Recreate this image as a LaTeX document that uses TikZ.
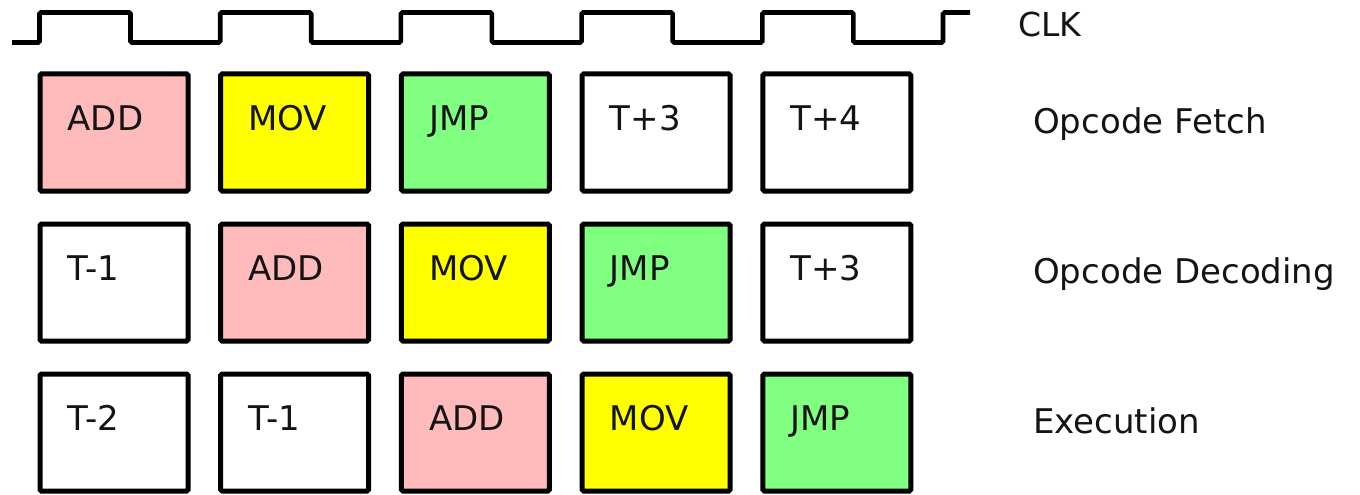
\documentclass[tikz,border=0pt]{standalone}
\usepackage{fontspec}
\setmainfont{DejaVu Sans}
\definecolor{pinkc}{RGB}{255,187,187}
\definecolor{yelc}{RGB}{255,255,0}
\definecolor{grnc}{RGB}{128,255,128}
\newcommand{\stagebox}[5]{%
  \node[box, fill=#4] (#1) at ({114+180.7*#2},{132.5+150*#3}) {};
  \node[txt] (#1t) at ([shift={(30,59)}]#1.north west) {#5};}
\begin{document}
\begin{tikzpicture}[x=1pt,y=-1pt,
  box/.style={draw=black, line width=5pt, minimum width=148pt, minimum height=117pt, inner sep=0pt, rounded corners=1.5pt},
  txt/.style={anchor=base west, inner sep=0pt, text=black!92, font=\fontsize{34}{40}\selectfont},
  wave/.style={draw=black, line width=4.6pt, rounded corners=1.5pt}]
\useasboundingbox (0,0) rectangle (1360,495);
\draw[wave] (12,42.5) -| (39.5,12.5) -| (130.5,42.5) -| (220.2,12.5) -| (311.2,42.5)
  -| (400.9,12.5) -| (491.9,42.5) -| (581.6,12.5) -| (672.6,42.5) -| (762.3,12.5)
  -| (853.3,42.5) -| (943,12.5) -- (970,12.5);
\node[txt, font=\fontsize{33}{40}\selectfont] (clk) at (1018,37) {CLK};
% fetch row
\stagebox{f1}{0}{0}{pinkc}{ADD}
\stagebox{f2}{1}{0}{yelc}{MOV}
\stagebox{f3}{2}{0}{grnc}{JMP}
\stagebox{f4}{3}{0}{white}{T+3}
\stagebox{f5}{4}{0}{white}{T+4}
% decode row
\stagebox{d1}{0}{1}{white}{T-1}
\stagebox{d2}{1}{1}{pinkc}{ADD}
\stagebox{d3}{2}{1}{yelc}{MOV}
\stagebox{d4}{3}{1}{grnc}{JMP}
\stagebox{d5}{4}{1}{white}{T+3}
% execute row
\stagebox{e1}{0}{2}{white}{T-2}
\stagebox{e2}{1}{2}{white}{T-1}
\stagebox{e3}{2}{2}{pinkc}{ADD}
\stagebox{e4}{3}{2}{yelc}{MOV}
\stagebox{e5}{4}{2}{grnc}{JMP}
\node[txt] (lf) at (1033,133) {Opcode Fetch};
\node[txt] (ld) at (1033,283) {Opcode Decoding};
\node[txt] (le) at (1033,433) {Execution};
\end{tikzpicture}
\end{document}
